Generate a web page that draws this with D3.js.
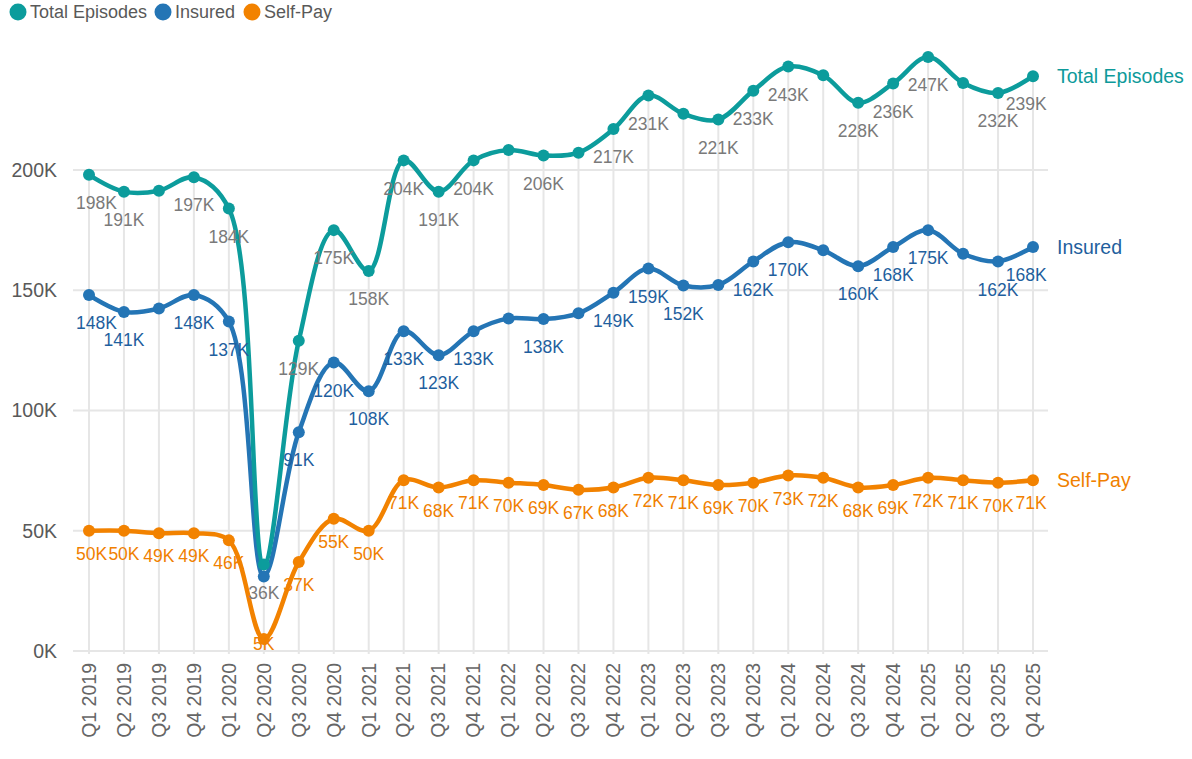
<!DOCTYPE html>
<html>
<head>
<meta charset="utf-8">
<script src="https://cdn.jsdelivr.net/npm/d3@7"></script>
<style>
  body { margin: 0; background: #fff; }
  svg { display: block; font-family: "Liberation Sans", Arial, sans-serif; }
</style>
</head>
<body>
<div id="chart"></div>
<script>
// quarters on the x axis
const quarters = [
  "Q1 2019", "Q2 2019", "Q3 2019", "Q4 2019",
  "Q1 2020", "Q2 2020", "Q3 2020", "Q4 2020",
  "Q1 2021", "Q2 2021", "Q3 2021", "Q4 2021",
  "Q1 2022", "Q2 2022", "Q3 2022", "Q4 2022",
  "Q1 2023", "Q2 2023", "Q3 2023", "Q4 2023",
  "Q1 2024", "Q2 2024", "Q3 2024", "Q4 2024",
  "Q1 2025", "Q2 2025", "Q3 2025", "Q4 2025"
];

// values in thousands
const totalEpisodes = [198, 191, 191.4, 197, 184, 36, 129, 175, 158, 204, 191, 204,
  208.3, 206, 207.2, 217, 231, 223.4, 221, 233, 243, 239.4, 228, 236, 247, 236.2, 232, 239];
const insured = [148, 141, 142.4, 148, 137, 31, 91, 120, 108, 133, 123, 133,
  138.3, 138, 140.4, 149, 159, 152, 152.2, 162, 170, 166.6, 160, 168, 175, 165.2, 162, 168];
const selfPay = [50, 50, 49, 49, 46, 5, 37, 55, 50, 71, 68, 71,
  70, 69, 67, 68, 72, 71, 69, 70, 73, 72, 68, 69, 72, 71, 70, 71];

// points whose value label is hidden (overlapping neighbours)
const totalHidden = [2, 12, 14, 17, 21, 25];
const insuredHidden = [2, 5, 12, 14, 18, 21, 25];
const selfPayHidden = [];

const yTicks = [0, 50, 100, 150, 200];

const series = [
  { name: "Self-Pay", values: selfPay, hidden: selfPayHidden, color: "#f28200", labelColor: "#f08000", dy: 23 },
  { name: "Insured", values: insured, hidden: insuredHidden, color: "#2475b5", labelColor: "#1f5f9e", dy: 28 },
  { name: "Total Episodes", values: totalEpisodes, hidden: totalHidden, color: "#0c9c9c", labelColor: "#7a7a7a", endColor: "#0e9a9a", dy: 28 }
];

const width = 1192, height = 759;
const plotLeft = 73, plotRight = 1048, plotBottom = 651;

const svg = d3.select("#chart")
  .append("svg")
  .attr("width", width)
  .attr("height", height)
  .attr("viewBox", [0, 0, width, height]);

const x = d3.scalePoint()
  .domain(quarters)
  .range([89, 1033]);

const y = d3.scaleLinear()
  .domain([0, 200])
  .range([plotBottom, 170]);

// horizontal grid
svg.append("g")
  .selectAll("line")
  .data(yTicks)
  .join("line")
  .attr("x1", plotLeft)
  .attr("x2", plotRight)
  .attr("y1", d => y(d))
  .attr("y2", d => y(d))
  .attr("stroke", "#e6e6e6")
  .attr("stroke-width", 2);

// vertical drop lines from the top series down to the axis
svg.append("g")
  .selectAll("line")
  .data(quarters)
  .join("line")
  .attr("x1", d => x(d))
  .attr("x2", d => x(d))
  .attr("y1", (d, i) => y(totalEpisodes[i]))
  .attr("y2", plotBottom + 3)
  .attr("stroke", "#e6e6e6")
  .attr("stroke-width", 2);

// y tick labels
svg.append("g")
  .selectAll("text")
  .data(yTicks)
  .join("text")
  .attr("x", 57)
  .attr("y", d => y(d))
  .attr("dy", "0.35em")
  .attr("text-anchor", "end")
  .attr("font-size", 19.5)
  .attr("fill", "#595959")
  .text(d => d + "K");

// x tick labels, rotated
svg.append("g")
  .selectAll("text")
  .data(quarters)
  .join("text")
  .attr("transform", d => `translate(${x(d)}, 663) rotate(-90)`)
  .attr("dy", "0.35em")
  .attr("text-anchor", "end")
  .attr("font-size", 19.5)
  .attr("fill", "#666")
  .text(d => d);

const line = d3.line()
  .x((d, i) => x(quarters[i]))
  .y(d => y(d))
  .curve(d3.curveCatmullRom.alpha(0.5));

// lines and points
series.forEach(s => {
  svg.append("path")
    .datum(s.values)
    .attr("fill", "none")
    .attr("stroke", s.color)
    .attr("stroke-width", 4.5)
    .attr("stroke-linejoin", "round")
    .attr("d", line);

  svg.append("g")
    .selectAll("circle")
    .data(s.values)
    .join("circle")
    .attr("cx", (d, i) => x(quarters[i]))
    .attr("cy", d => y(d))
    .attr("r", 6)
    .attr("fill", s.color);
});

// value labels
series.forEach(s => {
  const g = svg.append("g")
    .attr("font-size", 17.5)
    .attr("fill", s.labelColor)
    .attr("text-anchor", "middle");

  g.selectAll("text")
    .data(s.values.map((v, i) => ({ v, i })).filter(d => !s.hidden.includes(d.i)))
    .join("text")
    .attr("x", d => x(quarters[d.i]))
    .attr("y", d => Math.min(y(d.v) + s.dy, plotBottom - 7))
    .attr("dy", "0.35em")
    .text(d => Math.round(d.v) + "K")
    .each(function () {
      // keep labels inside the plot area horizontally
      const b = this.getBBox();
      const sel = d3.select(this);
      if (b.x < plotLeft + 3) sel.attr("x", +sel.attr("x") + (plotLeft + 3 - b.x));
      if (b.x + b.width > plotRight - 1) sel.attr("x", +sel.attr("x") - (b.x + b.width - plotRight + 1));
    });

  // end label
  const last = s.values.length - 1;
  svg.append("text")
    .attr("x", x(quarters[last]) + 24)
    .attr("y", y(s.values[last]))
    .attr("dy", "0.35em")
    .attr("font-size", 19.5)
    .attr("fill", s.endColor || s.labelColor)
    .text(s.name);
});

// legend
const legendItems = [
  { name: "Total Episodes", color: "#0c9c9c", cx: 18 },
  { name: "Insured", color: "#2475b5", cx: 163 },
  { name: "Self-Pay", color: "#f28200", cx: 252 }
];
const legend = svg.append("g");
legend.selectAll("circle")
  .data(legendItems)
  .join("circle")
  .attr("cx", d => d.cx)
  .attr("cy", 12)
  .attr("r", 8.5)
  .attr("fill", d => d.color);
legend.selectAll("text")
  .data(legendItems)
  .join("text")
  .attr("x", d => d.cx + 12)
  .attr("y", 12)
  .attr("dy", "0.35em")
  .attr("font-size", 18)
  .attr("fill", "#595959")
  .text(d => d.name);
</script>
</body>
</html>
